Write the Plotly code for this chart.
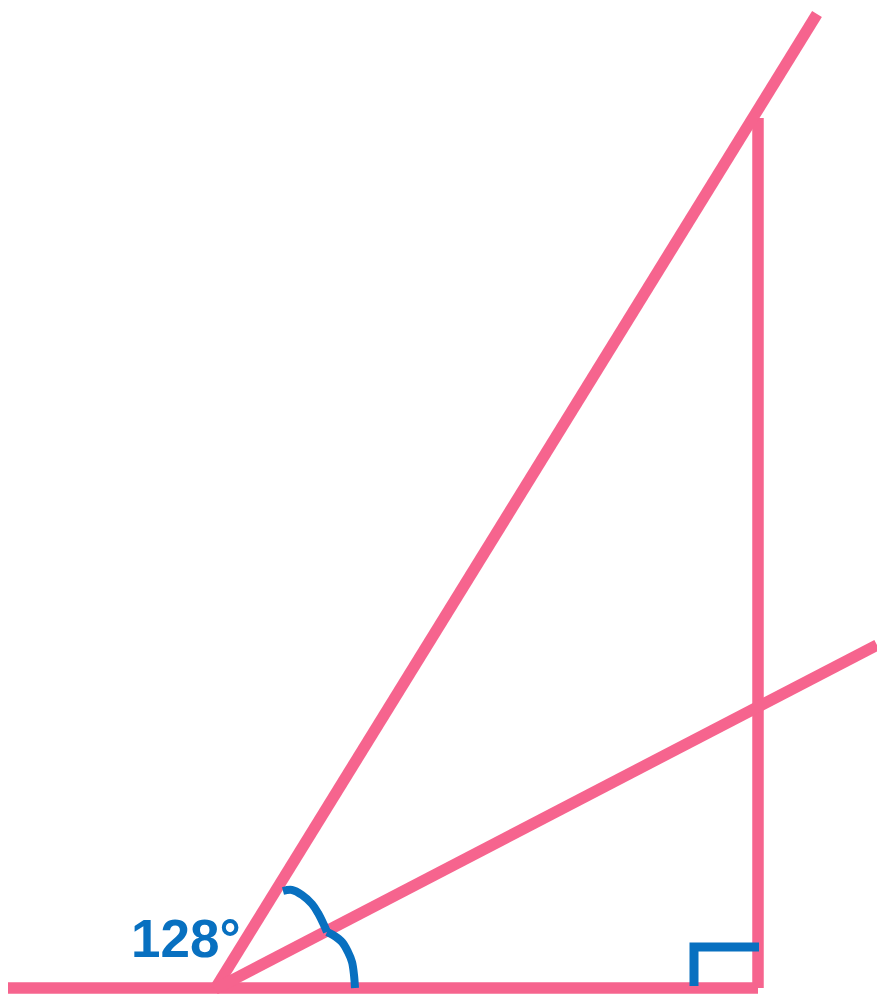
import plotly.graph_objects as go

vertex = (215, 989)
base_line_x = [8, 758]
base_line_y = [988, 988]
vertical_x = [758, 758]
vertical_y = [118, 988]
steep_x = [215, 817]
steep_y = [989, 14]
shallow_x = [215, 877]
shallow_y = [989, 645]

arc1_x = [283, 292, 302, 312, 318, 324, 327]
arc1_y = [891, 890, 895, 904, 913, 925, 932]
arc2_x = [327, 333, 342, 348, 352, 354, 355]
arc2_y = [932, 935, 942, 952, 962, 975, 988]

right_angle_x = [694, 694, 759]
right_angle_y = [986, 947, 947]

angle_label = "128°"
label_pos = (186, 938)

PINK = "#F6648E"
BLUE = "#0870C0"

fig = go.Figure()

for xs, ys in [(base_line_x, base_line_y), (vertical_x, vertical_y),
               (steep_x, steep_y), (shallow_x, shallow_y)]:
    fig.add_trace(go.Scatter(x=xs, y=ys, mode="lines",
                             line=dict(color=PINK, width=11.5),
                             hoverinfo="skip", showlegend=False))

for xs, ys in [(arc1_x, arc1_y), (arc2_x, arc2_y)]:
    fig.add_trace(go.Scatter(x=xs, y=ys, mode="lines",
                             line=dict(color=BLUE, width=8, shape="spline", smoothing=1),
                             hoverinfo="skip", showlegend=False))

fig.add_trace(go.Scatter(x=right_angle_x, y=right_angle_y, mode="lines",
                         line=dict(color=BLUE, width=9),
                         hoverinfo="skip", showlegend=False))

fig.add_annotation(x=label_pos[0], y=label_pos[1], text=f"<b>{angle_label}</b>",
                   showarrow=False, xanchor="center", yanchor="middle",
                   font=dict(family="Liberation Sans, Arial", size=53, color=BLUE))

fig.update_layout(
    width=877, height=994,
    margin=dict(l=0, r=0, t=0, b=0),
    paper_bgcolor="white", plot_bgcolor="white",
    xaxis=dict(range=[0, 877], visible=False, fixedrange=True),
    yaxis=dict(range=[994, 0], visible=False, fixedrange=True),
    hovermode=False,
)

fig.write_html("out.html", config={"displayModeBar": False},
               post_script="document.body.style.margin='0';document.body.style.overflow='hidden';")
